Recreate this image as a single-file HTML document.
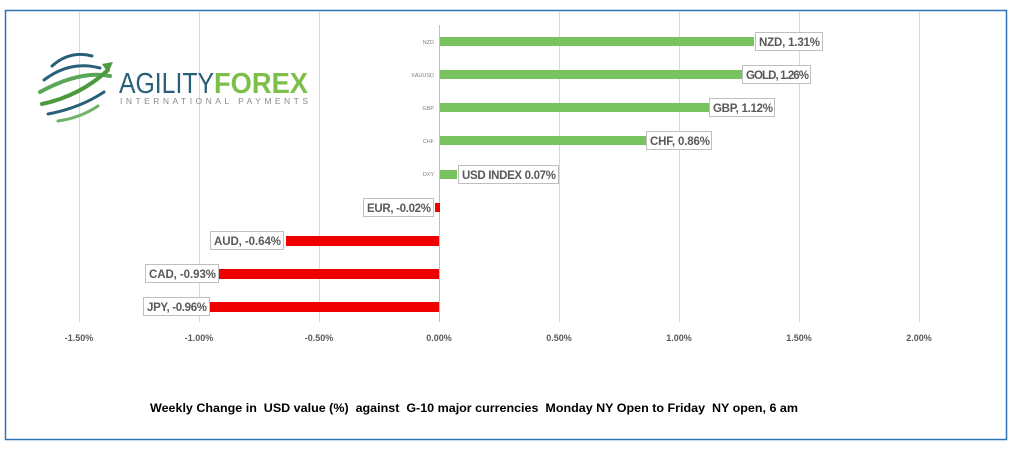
<!DOCTYPE html>
<html><head><meta charset="utf-8"><style>
body{margin:0;background:#fff;}
svg{display:block;font-family:"Liberation Sans",sans-serif;}
</style></head><body>
<svg width="1024" height="457" viewBox="0 0 1024 457">
<rect x="5.5" y="10.5" width="1001" height="429" fill="#fff" stroke="#2e75b6" stroke-width="1.5"/>
<g stroke="#d9d9d9" stroke-width="1">
<line x1="79.5" y1="12" x2="79.5" y2="322"/><line x1="199.5" y1="12" x2="199.5" y2="322"/>
<line x1="319.5" y1="12" x2="319.5" y2="322"/><line x1="559.5" y1="12" x2="559.5" y2="322"/>
<line x1="679.5" y1="12" x2="679.5" y2="322"/><line x1="799.5" y1="12" x2="799.5" y2="322"/>
<line x1="919.5" y1="12" x2="919.5" y2="322"/>
<line x1="439.5" y1="25" x2="439.5" y2="322" stroke="#bfbfbf"/>
</g>
<!-- logo -->
<g fill="none" stroke-linecap="round">
<path d="M52 66 Q70 50 92 56" stroke="#2a5f7a" stroke-width="3"/>
<path d="M44 80 Q70 60 100 68" stroke="#2a5f7a" stroke-width="3"/>
<path d="M40 92 Q80 70 110 76" stroke="#5aa75a" stroke-width="4"/>
<path d="M42 104 Q80 96 108 70" stroke="#4c9a3e" stroke-width="4"/>
<path d="M48 114 Q80 108 104 92" stroke="#2a5f7a" stroke-width="3"/>
<path d="M58 121 Q80 118 98 106" stroke="#6fb36a" stroke-width="3"/>
</g>
<polygon points="102,64 113,62 108,73" fill="#4c9a3e"/>
<text x="119" y="93" font-size="29" fill="#2a5f7a" textLength="95" lengthAdjust="spacingAndGlyphs">AGILITY</text>
<text x="214" y="93" font-size="29" font-weight="bold" fill="#7cc04a" textLength="94" lengthAdjust="spacingAndGlyphs">FOREX</text>
<text x="120" y="104" font-size="8.5" fill="#8a8a8a" textLength="188" lengthAdjust="spacing">INTERNATIONAL PAYMENTS</text>
<!-- bars -->
<g fill="#78c35f">
<rect x="440" y="37" width="314" height="9"/><rect x="440" y="70" width="302" height="9"/>
<rect x="440" y="103" width="269" height="9"/><rect x="440" y="136" width="206" height="9"/>
<rect x="440" y="170" width="17" height="9"/>
</g>
<g fill="#ee0000">
<rect x="435" y="203" width="5" height="9"/><rect x="286" y="236" width="153" height="10"/>
<rect x="216" y="269" width="223" height="10"/><rect x="209" y="302" width="230" height="10"/>
</g>
<g font-size="5.5" fill="#7f7f7f" text-anchor="end">
<text x="434" y="44">NZD</text><text x="434" y="77">XAUUSD</text><text x="434" y="110">GBP</text>
<text x="434" y="143">CHF</text><text x="434" y="176">DXY</text>
</g>
<!-- labels -->
<g stroke="#bfbfbf" fill="#fff">
<rect x="755.5" y="32.5" width="67" height="18"/><rect x="742.5" y="65.5" width="68" height="18"/>
<rect x="709.5" y="98.5" width="65" height="18"/><rect x="646.5" y="131.5" width="65" height="18"/>
<rect x="458.5" y="165.5" width="100" height="18"/><rect x="363.5" y="198.5" width="70" height="18"/>
<rect x="210.5" y="231.5" width="73" height="18"/><rect x="145.5" y="264.5" width="73" height="18"/>
<rect x="143.5" y="297.5" width="66" height="18"/>
</g>
<g font-size="11.5" font-weight="bold" fill="#595959">
<text x="759" y="46" textLength="61">NZD, 1.31%</text><text x="746" y="79" textLength="63">GOLD, 1.26%</text>
<text x="713" y="112" textLength="60">GBP, 1.12%</text><text x="650" y="145" textLength="60">CHF, 0.86%</text>
<text x="462" y="179" textLength="94">USD INDEX 0.07%</text><text x="367" y="212" textLength="64">EUR, -0.02%</text>
<text x="214" y="245" textLength="67">AUD, -0.64%</text><text x="149" y="278" textLength="67">CAD, -0.93%</text>
<text x="147" y="311" textLength="60">JPY, -0.96%</text>
</g>
<g font-size="9" font-weight="bold" fill="#595959" text-anchor="middle">
<text x="79" y="341">-1.50%</text><text x="199" y="341">-1.00%</text><text x="319" y="341">-0.50%</text>
<text x="439" y="341">0.00%</text><text x="559" y="341">0.50%</text><text x="679" y="341">1.00%</text>
<text x="799" y="341">1.50%</text><text x="919" y="341">2.00%</text>
</g>
<text x="150" y="412" font-size="12" font-weight="bold" fill="#000" textLength="648" lengthAdjust="spacingAndGlyphs" xml:space="preserve">Weekly Change in  USD value (%)  against  G-10 major currencies  Monday NY Open to Friday  NY open, 6 am</text>
</svg>
</body></html>
